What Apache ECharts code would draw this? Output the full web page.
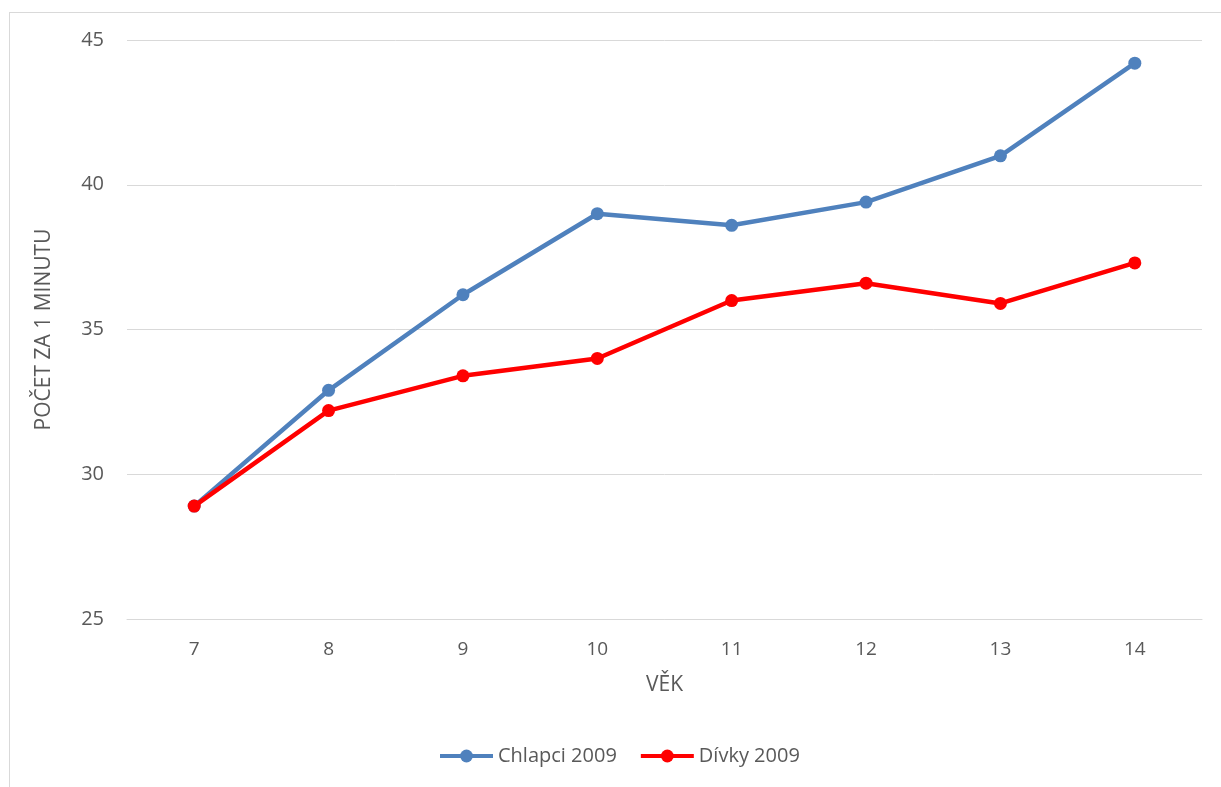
<!DOCTYPE html>
<html>
<head>
<meta charset="utf-8">
<script src="https://cdn.jsdelivr.net/npm/echarts@6/dist/echarts.min.js"></script>
<style>
  html, body { margin: 0; padding: 0; background: #fff; }
  #wrap { position: relative; width: 1221px; height: 787px; overflow: hidden; }
  #frame { position: absolute; left: 9px; top: 12px; width: 1240px; height: 800px; border: 1px solid #d9d9d9; box-sizing: border-box; }
  #chart { position: absolute; left: 0; top: 0; width: 1221px; height: 787px; }
</style>
</head>
<body>
<div id="wrap">
  <div id="frame"></div>
  <div id="chart"></div>
</div>
<script>
// Ages on the horizontal axis
const ages = ['7', '8', '9', '10', '11', '12', '13', '14'];
// Counts per minute, by age
const boys2009 = [28.9, 32.9, 36.2, 39.0, 38.6, 39.4, 41.0, 44.2];
const girls2009 = [28.9, 32.2, 33.4, 34.0, 36.0, 36.6, 35.9, 37.3];
const seriesNames = ['Chlapci 2009', 'Dívky 2009'];

const font = '"Open Sans", "Liberation Sans", sans-serif';
const textColor = '#595959';

const chart = echarts.init(document.getElementById('chart'), null, { renderer: 'canvas' });
chart.setOption({
  animation: false,
  backgroundColor: 'transparent',
  grid: { left: 127, right: 19, top: 40, bottom: 168, containLabel: false },
  legend: {
    top: 741,
    left: 433,
    itemWidth: 53,
    itemHeight: 16,
    itemGap: 22,
    lineStyle: { width: 4 },
    textStyle: { fontFamily: font, fontSize: 20, color: textColor },
    data: seriesNames
  },
  xAxis: {
    type: 'category',
    data: ages,
    boundaryGap: true,
    name: 'VĚK',
    nameLocation: 'middle',
    nameGap: 56,
    nameTextStyle: { fontFamily: font, fontSize: 21, color: textColor },
    axisLine: { show: true, lineStyle: { color: '#d9d9d9', width: 1 } },
    axisTick: { show: false },
    axisLabel: { margin: 21, fontFamily: font, fontSize: 19, color: textColor }
  },
  yAxis: {
    type: 'value',
    min: 25,
    max: 45,
    interval: 5,
    name: 'POČET ZA 1 MINUTU',
    nameLocation: 'middle',
    nameGap: 72,
    nameTextStyle: { fontFamily: font, fontSize: 21, color: textColor },
    axisLine: { show: false },
    axisTick: { show: false },
    axisLabel: { margin: 23, fontFamily: font, fontSize: 20, color: textColor },
    splitLine: { lineStyle: { color: '#d9d9d9', width: 1 } }
  },
  series: [
    {
      name: seriesNames[0],
      type: 'line',
      data: boys2009,
      symbol: 'circle',
      symbolSize: 13,
      itemStyle: { color: '#4f81bd' },
      lineStyle: { color: '#4f81bd', width: 4.5 },
      z: 2
    },
    {
      name: seriesNames[1],
      type: 'line',
      data: girls2009,
      symbol: 'circle',
      symbolSize: 13,
      itemStyle: { color: '#ff0000' },
      lineStyle: { color: '#ff0000', width: 4.5 },
      z: 3
    }
  ]
});
</script>
</body>
</html>
